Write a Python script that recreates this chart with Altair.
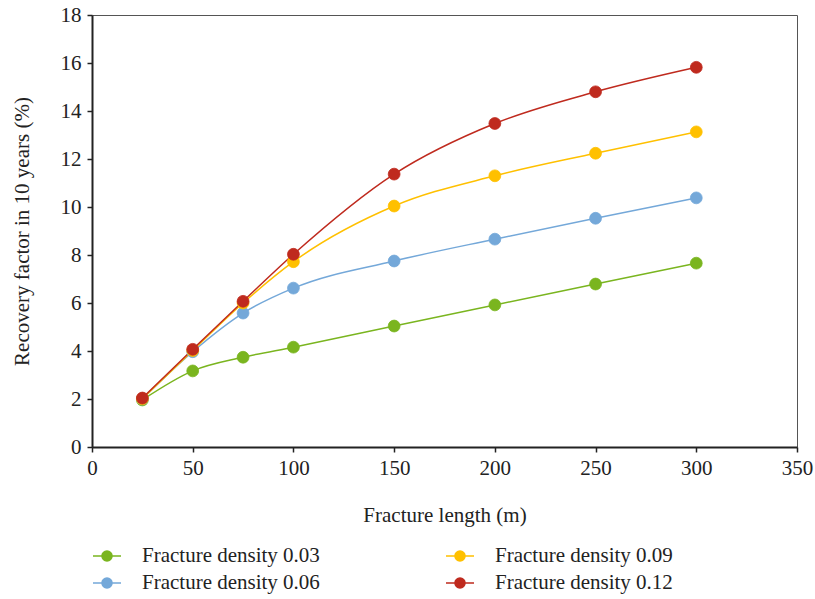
import altair as alt
import pandas as pd

lengths = [25, 50, 75, 100, 150, 200, 250, 300]
series_names = ["Fracture density 0.03", "Fracture density 0.06",
                "Fracture density 0.09", "Fracture density 0.12"]
rf_003 = [1.96, 3.17, 3.74, 4.16, 5.04, 5.92, 6.79, 7.66]
rf_006 = [2.00, 3.97, 5.58, 6.62, 7.75, 8.66, 9.53, 10.38]
rf_009 = [2.01, 4.02, 6.00, 7.72, 10.04, 11.30, 12.24, 13.13]
rf_012 = [2.04, 4.07, 6.07, 8.03, 11.37, 13.48, 14.80, 15.82]
colors = ["#7AB51F", "#74A8D9", "#FFC000", "#BF2A1E"]

rows = []
for name, vals in zip(series_names, [rf_003, rf_006, rf_009, rf_012]):
    for x, y in zip(lengths, vals):
        rows.append({"length": x, "rf": y, "series": name})
df = pd.DataFrame(rows)

scale = alt.Scale(domain=series_names, range=colors)

FONT = "Liberation Serif"
FS = 21
sym_path = "M-1,0L1,0M0.36,0A0.36,0.36,0,1,1,-0.36,0A0.36,0.36,0,1,1,0.36,0Z"

legend = alt.Legend(
    title=None, orient="none", legendX=0, legendY=526, columns=2,
    values=series_names,
    symbolType=sym_path, symbolSize=784, symbolStrokeWidth=1.5,
    labelFont=FONT, labelFontSize=FS, labelColor="#222222",
    labelOffset=20, columnPadding=123, rowPadding=2, labelLimit=300,
)

x_enc = alt.X("length:Q", title="Fracture length (m)",
              scale=alt.Scale(domain=[0, 350], nice=False),
              axis=alt.Axis(values=list(range(0, 351, 50)), grid=False,
                            labelFlush=False,
                            domainColor="#222222", domainWidth=2,
                            tickColor="#222222", tickWidth=1.5, tickSize=5,
                            labelFont=FONT, labelFontSize=FS, labelColor="#222222",
                            labelPadding=5, titleFont=FONT, titleFontSize=FS,
                            titleFontWeight="normal", titleColor="#222222",
                            titlePadding=26))
y_enc = alt.Y("rf:Q", title="Recovery factor in 10 years (%)",
              scale=alt.Scale(domain=[0, 18], nice=False),
              axis=alt.Axis(values=list(range(0, 19, 2)), grid=False,
                            labelFlush=False,
                            domainColor="#222222", domainWidth=2,
                            tickColor="#222222", tickWidth=1.5, tickSize=5,
                            labelFont=FONT, labelFontSize=FS, labelColor="#222222",
                            labelPadding=6, titleFont=FONT, titleFontSize=FS,
                            titleFontWeight="normal", titleColor="#222222",
                            titlePadding=28))

lines = alt.Chart(df).mark_line(interpolate="monotone", strokeWidth=1.5).encode(
    x=x_enc, y=y_enc,
    stroke=alt.Stroke("series:N", scale=scale, legend=legend),
    detail="series:N",
)
points = alt.Chart(df).mark_point(filled=False, size=140, opacity=1, strokeWidth=0.8).encode(
    x=x_enc, y=y_enc,
    fill=alt.Fill("series:N", scale=scale, legend=legend),
    stroke=alt.Stroke("series:N", scale=scale, legend=legend),
)

chart = alt.layer(lines, points).properties(
    width=705, height=432,
    autosize="none",
    padding={"left": 92, "top": 15, "right": 18, "bottom": 152},
).configure(background="white", font=FONT).configure_view(stroke="#555555", strokeWidth=1)

chart.save("out.html", embed_options={"renderer": "svg", "actions": False})
